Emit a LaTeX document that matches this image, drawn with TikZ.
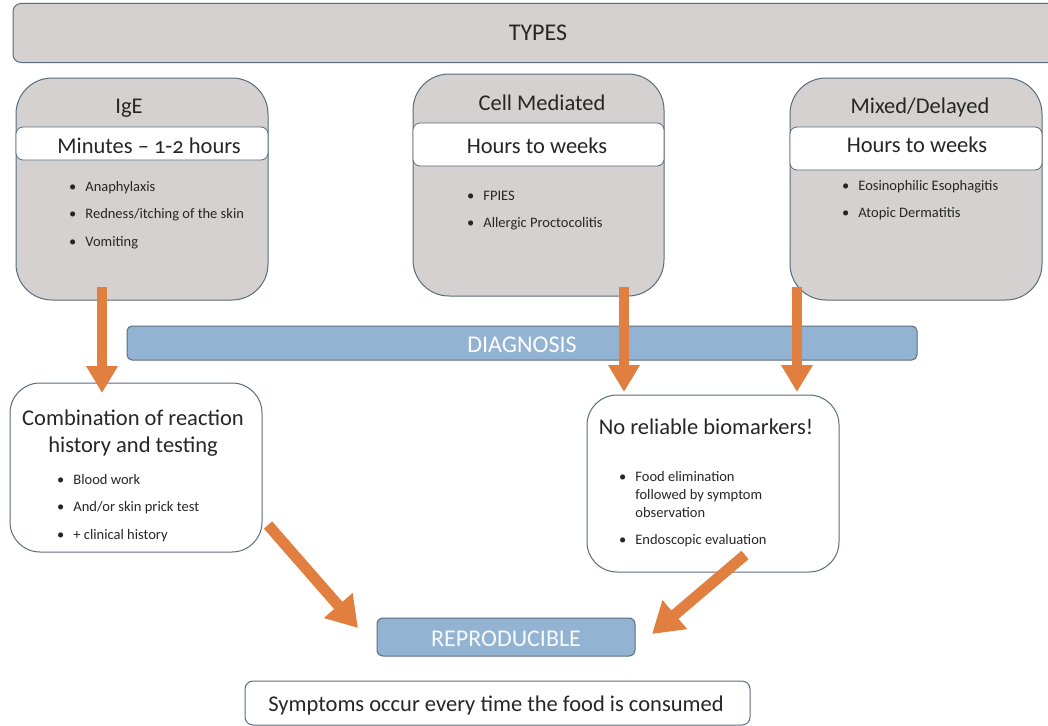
\documentclass[tikz,border=0pt]{standalone}
\usepackage{fontspec}
\setmainfont{Carlito}[Numbers=OldStyle]
\usetikzlibrary{arrows.meta}
\definecolor{boxgray}{HTML}{D5D1D0}
\definecolor{edge}{HTML}{5A6B7D}
\definecolor{bluefill}{HTML}{93B3D2}
\definecolor{orangearr}{HTML}{E07F3F}
\definecolor{txt}{HTML}{262626}
\begin{document}
\begin{tikzpicture}[x=1pt,y=-1pt,
  graybox/.style={draw=edge, line width=1pt, fill=boxgray, rounded corners=36pt, inner sep=0pt},
  band/.style={draw=edge, line width=0.8pt, fill=white, rounded corners=7pt, inner sep=0pt},
  whitebox/.style={draw=edge, line width=1pt, fill=white, rounded corners=30pt, inner sep=0pt},
  bluebar/.style={draw=edge, line width=1pt, fill=bluefill, rounded corners=5pt, inner sep=0pt},
  plainbox/.style={draw=edge, line width=1pt, fill=white, rounded corners=8pt, inner sep=0pt},
  title/.style={text=txt, font=\fontsize{22.5}{26}\selectfont, inner sep=0pt, anchor=base},
  bartext/.style={text=white, font=\fontsize{24}{28}\selectfont, inner sep=0pt, anchor=base},
  blist/.style={text=txt, font=\fontsize{14.5}{18}\selectfont, inner sep=0pt, anchor=base west, align=left},
  arr/.style={draw=orangearr, line width=10pt, -{Triangle[width=30pt,length=27pt]}},
  darr/.style={draw=orangearr, line width=11pt, -{Triangle[width=36pt,length=30pt]}}
]
\useasboundingbox (0,0) rectangle (1048,725);
\clip (0,0) rectangle (1048,725);

% TYPES
\node[graybox, rounded corners=8pt, minimum width=1047pt, minimum height=59pt] (types) at (536.5,33) {};
\node[title, font=\fontsize{24}{28}\selectfont] (typest) at (538,41) {TYPES};

% type boxes
\node[graybox, minimum width=252pt, minimum height=222pt] (ige) at (142,189) {};
\node[band, minimum width=252pt, minimum height=33pt] (igeband) at (142,143.5) {};
\node[title] (iget) at (129,113) {IgE};
\node[title] (igetime) at (149,153) {Minutes – 1-2 hours};
\node[blist] (igelist) at (69,191) {\begin{tabular}[t]{@{}l@{\hspace{9pt}}l@{}}\textbullet & Anaphylaxis\\[9.5pt] \textbullet & Redness/itching of the skin\\[9.5pt] \textbullet & Vomiting\end{tabular}};

\node[graybox, minimum width=251pt, minimum height=222pt] (cell) at (538.5,185) {};
\node[band, minimum width=251pt, minimum height=43pt] (cellband) at (538.5,144.5) {};
\node[title] (cellt) at (542,110) {Cell Mediated};
\node[title] (celltime) at (537,153) {Hours to weeks};
\node[blist] (celllist) at (467,200) {\begin{tabular}[t]{@{}l@{\hspace{9pt}}l@{}}\textbullet & FPIES\\[9.5pt] \textbullet & Allergic Proctocolitis\end{tabular}};

\node[graybox, minimum width=252pt, minimum height=222pt] (mixed) at (916,189) {};
\node[band, minimum width=252pt, minimum height=43pt] (mixedband) at (916,148.5) {};
\node[title] (mixedt) at (920,113) {Mixed/Delayed};
\node[title] (mixedtime) at (917,152) {Hours to weeks};
\node[blist] (mixedlist) at (842,190) {\begin{tabular}[t]{@{}l@{\hspace{9pt}}l@{}}\textbullet & Eosinophilic Esophagitis\\[9.5pt] \textbullet & Atopic Dermatitis\end{tabular}};

% DIAGNOSIS
\node[bluebar, minimum width=790pt, minimum height=34pt] (diag) at (522,343) {};
\node[bartext] (diagt) at (522,352) {DIAGNOSIS};

% diagnosis boxes
\node[whitebox, minimum width=252pt, minimum height=169pt] (comb) at (136,467.5) {};
\node[title] (combt1) at (133,425) {Combination of reaction};
\node[title] (combt2) at (133,452) {history and testing};
\node[blist] (comblist) at (57,484) {\begin{tabular}[t]{@{}l@{\hspace{9pt}}l@{}}\textbullet & Blood work\\[9.5pt] \textbullet & And/or skin prick test\\[9.5pt] \textbullet & + clinical history\end{tabular}};

\node[whitebox, minimum width=252pt, minimum height=177pt] (nobio) at (713,483.5) {};
\node[title] (nobiot) at (706,434) {No reliable biomarkers!};
\node[blist] (nobiolist) at (619,481) {\begin{tabular}[t]{@{}l@{\hspace{9pt}}l@{}}\textbullet & Food elimination\\ & followed by symptom\\ & observation\\[9.5pt] \textbullet & Endoscopic evaluation\end{tabular}};

% REPRODUCIBLE
\node[bluebar, rounded corners=6pt, minimum width=258pt, minimum height=38pt] (repro) at (506,637) {};
\node[bartext, text=white!93!bluefill] (reprot) at (506,646) {REPRODUCIBLE};

\node[plainbox, minimum width=505pt, minimum height=44pt] (symp) at (497.5,703) {};
\node[title] (sympt) at (496,711) {Symptoms occur every time the food is consumed};

% arrows
\coordinate (a1s) at (102,287);
\coordinate (a1e) at (102,393);
\coordinate (a2s) at (624,287);
\coordinate (a2e) at (624,392);
\coordinate (a3s) at (797,287);
\coordinate (a3e) at (797,392);
\coordinate (d1s) at (268,525);
\coordinate (d1e) at (358,628);
\coordinate (d2s) at (745,555);
\coordinate (d2e) at (652,634);
\draw[arr] (a1s) -- (a1e);
\draw[arr] (a2s) -- (a2e);
\draw[arr] (a3s) -- (a3e);
\draw[darr] (d1s) -- (d1e);
\draw[darr] (d2s) -- (d2e);
\end{tikzpicture}
\end{document}
